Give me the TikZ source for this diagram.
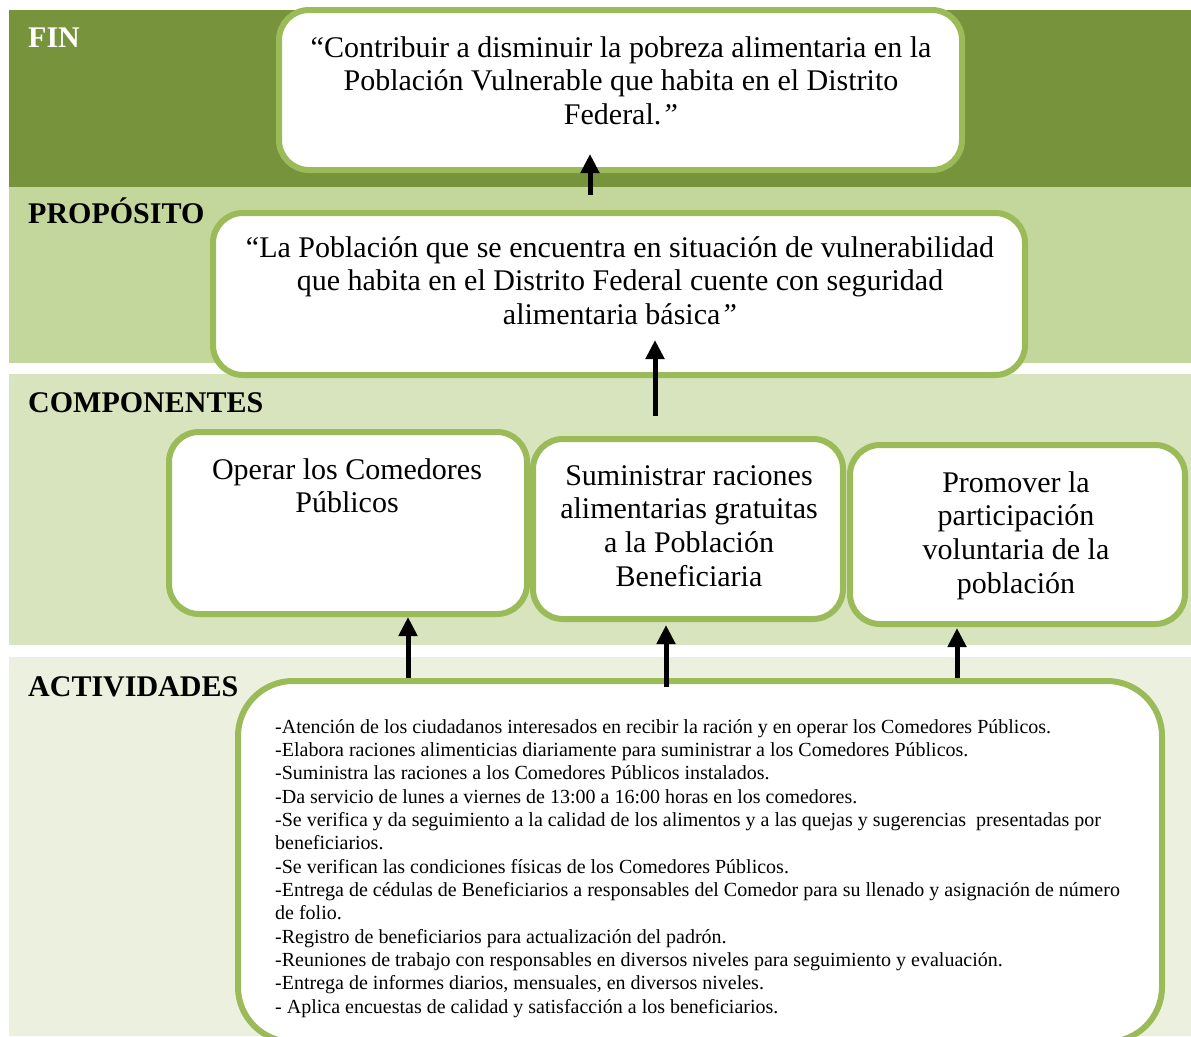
\documentclass[tikz,border=0pt]{standalone}
\usepackage{fontspec}
\setmainfont{Liberation Serif}
\usetikzlibrary{arrows.meta,calc}
\definecolor{finband}{HTML}{77933C}
\definecolor{propband}{HTML}{C3D69B}
\definecolor{compband}{HTML}{D7E4BD}
\definecolor{actband}{HTML}{EBF1DE}
\definecolor{gborder}{HTML}{9BBB59}
\begin{document}
\begin{tikzpicture}[x=1pt,y=-1pt,
  gbox/.style={draw=gborder, line width=6pt, fill=white, rounded corners=30pt, outer sep=0pt, inner sep=0pt},
  head/.style={font=\fontsize{30}{34}\selectfont\bfseries, anchor=base west, inner sep=0pt},
  big/.style={font=\fontsize{30}{33.8}\selectfont, align=center, anchor=base, inner sep=0pt},
  small/.style={font=\fontsize{20}{23.35}\selectfont, align=left, anchor=base west, inner sep=0pt},
  arr/.style={line width=5pt, -{Triangle[width=18pt,length=19pt]}},
]
\useasboundingbox (0,0) rectangle (1191,1036);
\begin{scope}
\clip (0,0) rectangle (1191,1036);
% bands
\fill[finband] (9,10) rectangle (1191,187);
\fill[propband] (9,187) rectangle (1191,363);
\fill[compband] (9,374) rectangle (1191,645);
\fill[actband] (9,657) rectangle (1191,1036);
% headings
\node[head, text=white] (hfin) at (28,47) {FIN};
\node[head] (hprop) at (28,223) {PROPÓSITO};
\node[head] (hcomp) at (28,412) {COMPONENTES};
\node[head] (hact) at (28,696) {ACTIVIDADES};
% boxes
\node[gbox, minimum width=683pt, minimum height=160pt] (fin) at (620.5,90) {};
\node[gbox, minimum width=812pt, minimum height=162pt] (prop) at (619,294) {};
\node[gbox, minimum width=358pt, minimum height=182pt] (c1) at (348,523) {};
\node[gbox, minimum width=310pt, minimum height=180pt] (c2) at (688,529) {};
\node[gbox, minimum width=335pt, minimum height=179pt] (c3) at (1017.5,534.5) {};
\node[gbox, rounded corners=55pt, minimum width=924pt, minimum height=361pt] (act) at (700,861.5) {};
% texts (anchored at the baseline of their last line)
\node[big] (tfin) at (621,124.6) {“Contribuir a disminuir la pobreza alimentaria en la\\ Población Vulnerable que habita en el Distrito\\ Federal.\textit{”}};
\node[big] (tprop) at (620,324.6) {“La Población que se encuentra en situación de vulnerabilidad\\ que habita en el Distrito Federal cuente con seguridad\\ alimentaria básica\textit{”}};
\node[big] (tc1) at (347,512.8) {Operar los Comedores\\ Públicos};
\node[big] (tc2) at (689,586.4) {Suministrar raciones\\ alimentarias gratuitas\\ a la Población\\ Beneficiaria};
\node[big] (tc3) at (1016,593.4) {Promover la\\ participación\\ voluntaria de la\\ población};
\node[small] (tact) at (275,1013.2) {-Atención de los ciudadanos interesados en recibir la ración y en operar los Comedores Públicos.\\
-Elabora raciones alimenticias diariamente para suministrar a los Comedores Públicos.\\
-Suministra las raciones a los Comedores Públicos instalados.\\
-Da servicio de lunes a viernes de 13:00 a 16:00 horas en los comedores.\\
-Se verifica y da seguimiento a la calidad de los alimentos y a las quejas y sugerencias~ presentadas por\\
beneficiarios.\\
-Se verifican las condiciones físicas de los Comedores Públicos.\\
-Entrega de cédulas de Beneficiarios a responsables del Comedor para su llenado y asignación de número\\
de folio.\\
-Registro de beneficiarios para actualización del padrón.\\
-Reuniones de trabajo con responsables en diversos niveles para seguimiento y evaluación.\\
-Entrega de informes diarios, mensuales, en diversos niveles.\\
- Aplica encuestas de calidad y satisfacción a los beneficiarios.};
% arrows
\coordinate (ax1) at (590,0);
\coordinate (ax2) at (655,0);
\coordinate (ax3) at (408,0);
\coordinate (ax4) at (666,0);
\coordinate (ax5) at (957,0);
\draw[arr] ($(prop.north -| ax1)+(0,-18)$) -- ($(fin.south -| ax1)+(0,-16)$);
\draw[arr] ($(c2.north -| ax2)+(0,-23)$) -- ($(prop.south -| ax2)+(0,-35)$);
\draw[arr] ($(act.north -| ax3)+(0,-3)$) -- ($(c1.south -| ax3)+(0,3)$);
\draw[arr] ($(act.north -| ax4)+(0,6)$) -- ($(c2.south -| ax4)+(0,6)$);
\draw[arr] ($(act.north -| ax5)+(0,-3)$) -- ($(c3.south -| ax5)+(0,4)$);
\end{scope}
\end{tikzpicture}
\end{document}
